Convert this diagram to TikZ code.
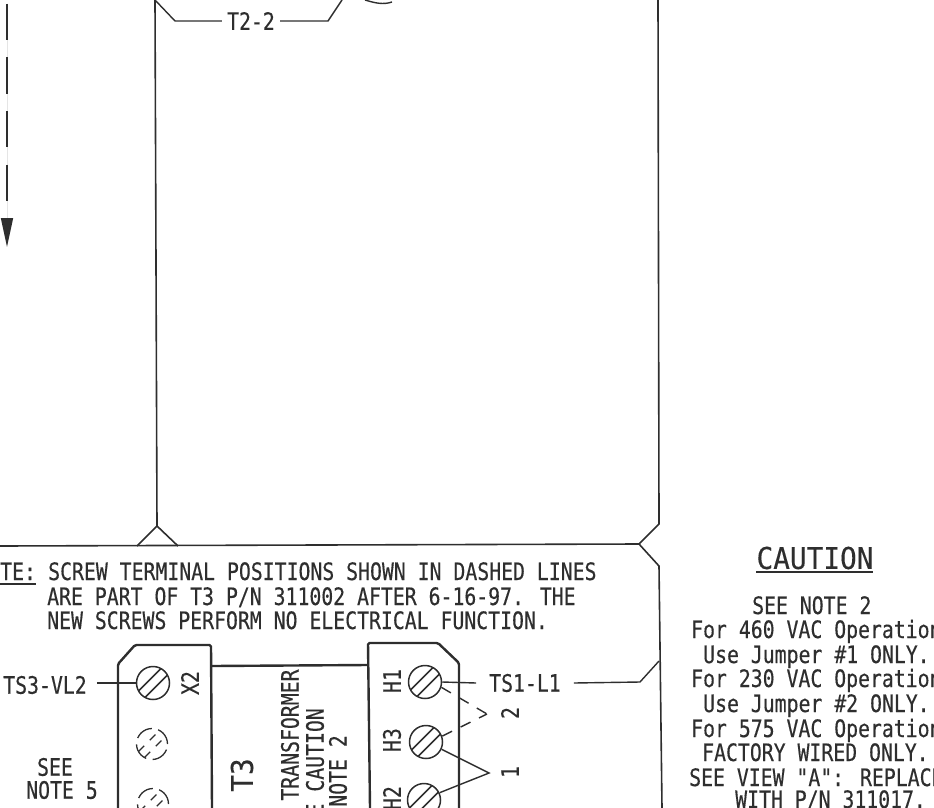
\documentclass[tikz,border=0pt]{standalone}
\usepackage{fontspec}
\usetikzlibrary{arrows.meta}
\newfontfamily\platefont[FakeStretch=0.825,FakeBold=0.35]{DejaVu Sans Mono}
\newfontfamily\bigplatefont[FakeStretch=0.925,FakeBold=0.2]{DejaVu Sans Mono}
\definecolor{ink}{HTML}{2E2E2E}
\tikzset{
    frameline/.style={draw=ink, line width=1.6pt},
    boxline/.style={draw=ink, line width=2.4pt, rounded corners=1.5pt},
    wire/.style={draw=ink, line width=1.4pt},
    platetext/.style={text=ink, inner sep=0pt, font=\platefont\fontsize{24}{24.6}\selectfont},
    bigtext/.style={text=ink, inner sep=0pt, font=\bigplatefont\fontsize{30}{32}\selectfont},
    screw/.style={circle, draw=ink, line width=1.5pt, minimum size=33pt, inner sep=0pt, path picture={
        \draw[ink, line width=1.5pt] ([xshift=6.5pt]path picture bounding box.south west) -- ([yshift=-6.5pt]path picture bounding box.north east);
        \draw[ink, line width=1.5pt] ([yshift=6.5pt]path picture bounding box.south west) -- ([xshift=-6.5pt]path picture bounding box.north east);
    }},
    oldscrew/.style={circle, draw=ink, line width=1.3pt, minimum size=31pt, inner sep=0pt, dash pattern=on 18pt off 6.5pt, path picture={
        \draw[ink, line width=1.3pt, dash pattern=on 8pt off 8pt] ([xshift=8pt,yshift=2pt]path picture bounding box.south west) -- ([xshift=-2pt,yshift=-8pt]path picture bounding box.north east);
        \draw[ink, line width=1.3pt, dash pattern=on 8pt off 8pt] ([xshift=2pt,yshift=8pt]path picture bounding box.south west) -- ([xshift=-8pt,yshift=-2pt]path picture bounding box.north east);
    }}
}
\begin{document}
\begin{tikzpicture}[x=1pt, y=-1pt]
    \useasboundingbox (0,0) rectangle (934,808);

    % arrow at the left edge
    \coordinate (arrowtop) at (7,4);
    \coordinate (arrowend) at (7,247);
    \draw[draw=ink, fill=ink, line width=1.6pt, dash pattern=on 36pt off 17.5pt, -{Triangle[width=12pt,length=29pt]}] (arrowtop) -- (arrowend);

    % frame
    \draw[frameline] (155,0) -- (157,526) -- (137,546);
    \draw[frameline] (157,526) -- (178,546);
    \draw[frameline] (0,546) -- (639,544);
    \draw[frameline] (658,0) -- (659,524) -- (639,544) -- (659,566) -- (662,808);

    % wire across the top
    \node[platetext, inner xsep=5pt] (t22) at (251,21) {T2-2};
    \coordinate (t22left) at (175,21);
    \coordinate (t22right) at (328,21);
    \draw[wire] (155,0) -- (t22left) -- (t22.west);
    \draw[wire] (t22.east) -- (t22right) -- (342,0);
    \draw[wire] (365,0) .. controls (375,3) and (383,5) .. (392,2);

    % note
    \node[platetext, anchor=base west] (note0) at (0,580) {TE:};
    \draw[ink, line width=1.6pt] (0,584) -- (36,584);
    \node[platetext, anchor=base west] (note1) at (48,580) {SCREW TERMINAL POSITIONS SHOWN IN DASHED LINES};
    \node[platetext, anchor=base west] (note2) at (47,605) {ARE PART OF T3 P/N 311002 AFTER 6-16-97. THE};
    \node[platetext, anchor=base west] (note3) at (47,629) {NEW SCREWS PERFORM NO ELECTRICAL FUNCTION.};

    % transformer blocks
    \draw[boxline] (118,808) -- (118,664) -- (135,645) -- (211,645) -- (212,808);
    \draw[boxline] (370,808) -- (368,643) -- (438,643) -- (459,663) -- (459,808);
    \draw[ink, line width=2.4pt] (212,666) -- (368,665);

    % screws
    \node[screw] (x2screw) at (153,683) {};
    \node[oldscrew] (oldscrewa) at (152,744) {};
    \node[oldscrew] (oldscrewb) at (153,804) {};
    \node[screw] (h1screw) at (425,682) {};
    \node[screw] (h3screw) at (426,742) {};
    \node[screw] (h2screw) at (424,800) {};

    % screw labels
    \node[platetext, rotate=90] (x2label) at (190,683) {X2};
    \node[platetext, rotate=90] (h1label) at (392,681) {H1};
    \node[platetext, rotate=90] (h3label) at (392,740) {H3};
    \node[platetext, rotate=90] (h2label) at (392,798) {H2};

    % side text on T3
    \node[bigtext, rotate=90] (t3label) at (242,775) {T3};
    \node[platetext, rotate=90] (transformerlabel) at (290,735) {TRANSFORMER};
    \node[platetext, rotate=90, anchor=east] (cautionlabel) at (315,708) {E CAUTION};
    \node[platetext, rotate=90, anchor=east] (notelabel) at (338,735) {NOTE 2};

    % wires to the terminals
    \node[platetext, inner xsep=10pt] (ts3) at (45,685) {TS3-VL2};
    \draw[wire] (ts3.east |- x2screw) -- (x2screw.west);
    \node[platetext] (see5a) at (55,767) {SEE};
    \node[platetext] (see5b) at (62,790) {NOTE 5};
    \node[platetext, inner xsep=13pt] (ts1) at (525,683) {TS1-L1};
    \coordinate (ts1bend) at (640,682);
    \draw[wire] (h1screw.east) -- (ts1.west);
    \draw[wire] (ts1.east) -- (ts1bend) -- (659,661);

    % jumpers
    \coordinate (jumpertwo) at (487,714);
    \coordinate (jumperone) at (489,773);
    \draw[wire, dash pattern=on 11pt off 9.5pt] (h1screw.-18) -- (jumpertwo);
    \draw[wire, dash pattern=on 11pt off 9.5pt] (h3screw.20) -- (jumpertwo);
    \draw[wire] (h3screw.-25) -- (jumperone) -- (h2screw.25);
    \node[platetext, rotate=90] (jumpertwolabel) at (510,713) {2};
    \node[platetext, rotate=90] (jumperonelabel) at (510,772) {1};

    % caution text
    \node[bigtext] (cautionhead) at (815,558) {CAUTION};
    \draw[ink, line width=2pt] (756,572) -- (873,572);
    \foreach \xx/\yy/\txt [count=\n] in {
        752/614/{SEE NOTE 2},
        691/638/{For 460 VAC Operation},
        703/663/{Use Jumper \#1 ONLY.},
        691/687/{For 230 VAC Operation},
        703/712/{Use Jumper \#2 ONLY.},
        691/737/{For 575 VAC Operation},
        702/761/{FACTORY WIRED ONLY.},
        689/786/{SEE VIEW "A": REPLACE},
        735/808/{WITH P/N 311017.}}
        \node[platetext, anchor=base west] (caution\n) at (\xx,\yy) {\txt};
\end{tikzpicture}
\end{document}
